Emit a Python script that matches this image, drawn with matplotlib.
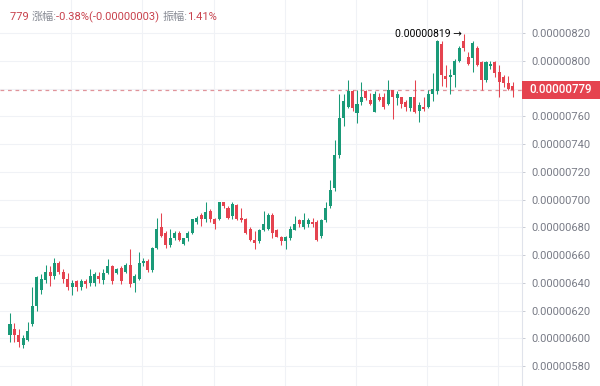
import matplotlib
matplotlib.use("Agg")
import matplotlib.pyplot as plt
import matplotlib.transforms as mtransforms
from matplotlib.patches import Rectangle
import numpy as np

# values in units of 1e-8
opens = [602, 607, 602, 595, 599, 610, 623, 635, 642, 648, 645, 654, 648, 643, 637, 641, 637, 641, 640, 640,
         645, 642, 647, 652, 647, 651, 648, 653, 640, 643, 654, 656, 649, 665, 680, 676, 667, 672, 676, 668,
         672, 676, 684, 689, 686, 692, 686, 686, 698, 694, 688, 696, 687, 686, 679, 671, 670, 678, 679, 689,
         678, 673, 670, 672, 678, 685, 680, 682, 684, 684, 674, 685, 695, 708, 732, 759, 767, 778, 762, 770,
         778, 772, 763, 774, 774, 769, 779, 773, 774, 770, 766, 774, 764, 767, 767, 776, 778, 812, 789, 788,
         790, 800, 814, 803, 802, 809, 799, 786, 796, 799, 792, 788, 784, 782]
highs = [618, 611, 607, 602, 612, 637, 645, 646, 653, 652, 658, 656, 650, 647, 642, 642, 643, 643, 650, 648,
         648, 650, 657, 653, 651, 652, 654, 664, 646, 662, 658, 657, 666, 687, 690, 677, 679, 677, 677, 672,
         677, 686, 688, 690, 698, 693, 687, 698, 698, 695, 698, 697, 694, 687, 680, 677, 679, 692, 690, 690,
         679, 674, 674, 681, 688, 686, 690, 687, 687, 685, 686, 698, 714, 743, 776, 776, 786, 779, 779, 785,
         779, 777, 778, 777, 777, 786, 779, 778, 774, 772, 774, 786, 770, 774, 779, 791, 815, 814, 797, 794,
         801, 811, 819, 806, 814, 811, 800, 800, 800, 800, 797, 790, 789, 785]
lows = [597, 597, 594, 593, 598, 609, 620, 632, 640, 638, 643, 646, 640, 635, 631, 634, 635, 636, 638, 638,
        640, 639, 646, 639, 646, 639, 647, 637, 633, 642, 652, 648, 648, 664, 673, 665, 666, 671, 670, 667,
        670, 675, 682, 681, 684, 684, 679, 685, 694, 686, 686, 685, 684, 675, 670, 664, 669, 677, 678, 672,
        673, 667, 664, 671, 678, 680, 679, 680, 680, 670, 672, 684, 694, 706, 730, 753, 766, 764, 755, 768,
        772, 768, 763, 771, 765, 768, 758, 768, 766, 764, 764, 762, 756, 764, 766, 771, 776, 782, 781, 776,
        781, 799, 807, 797, 792, 796, 779, 785, 794, 788, 774, 781, 779, 774]
closes = [610, 602, 597, 600, 605, 623, 644, 643, 648, 645, 654, 648, 643, 637, 640, 637, 641, 639, 645, 646,
          643, 647, 652, 641, 650, 641, 653, 639, 645, 654, 656, 649, 665, 679, 674, 667, 672, 676, 671, 672,
          676, 686, 687, 686, 691, 686, 682, 698, 695, 687, 697, 686, 685, 676, 671, 669, 678, 682, 689, 676,
          673, 670, 673, 679, 682, 682, 685, 685, 682, 671, 685, 694, 707, 732, 759, 771, 778, 766, 769, 774,
          773, 769, 776, 772, 767, 779, 774, 776, 769, 767, 774, 763, 768, 765, 776, 780, 814, 790, 787, 790,
          800, 809, 809, 798, 813, 797, 786, 799, 798, 791, 785, 784, 780, 779]

y_grid = [580, 600, 620, 640, 660, 680, 700, 720, 740, 760, 780, 800, 820]
last_price = 779
peak_price = 819
title_parts = [("779 ", "#c8414c"), ("涨幅:", "#8a8d96"), ("-0.38%(-0.00000003) ", "#c8414c"),
               ("振幅:", "#8a8d96"), ("1.41%", "#c8414c")]

UP = "#1a9a78"
DOWN = "#e5434f"

plt.rcParams['font.family'] = ['Roboto', 'Noto Sans CJK SC', 'DejaVu Sans']

fig = plt.figure(figsize=(6, 3.86), dpi=100)
ax = fig.add_axes([0, 0, 522 / 600, 1])

o = np.array(opens, float)
h = np.array(highs, float)
l = np.array(lows, float)
c = np.array(closes, float)
x = np.arange(len(o))
up = c >= o
cols = np.where(up, UP, DOWN)

ax.vlines(x, l, h, colors=cols, linewidth=0.75, zorder=3)
bottoms = np.minimum(o, c)
heights = np.maximum(np.abs(c - o), 0.8)
ax.bar(x, heights, bottom=bottoms, width=0.68, color=cols, linewidth=0, zorder=4)

ax.set_xlim(-2.25, 115.09)
ax.set_ylim(565.6, 843.8)

# grid
for v in y_grid:
    ax.axhline(v, color="#f0f2f6", linewidth=0.8, zorder=0)
grid_start, grid_step = -2.25, 16
for k in range(1, 8):
    ax.axvline(grid_start + grid_step * k, color="#f0f2f6", linewidth=0.8, zorder=0)

# tick labels hidden behind the last-price tag are not drawn
y_ticks = [v for v in y_grid if abs(v - last_price) > 8]
ax.set_xticks([])
ax.yaxis.tick_right()
ax.set_yticks(y_ticks)
ax.set_yticklabels([f"{v * 1e-8:.8f}" for v in y_ticks])
ax.tick_params(axis='y', length=2.5, width=0.7, color="#c9ccd4", labelsize=8,
               labelcolor="#787b86", pad=4)
for s in ['top', 'bottom', 'left']:
    ax.spines[s].set_visible(False)
ax.spines['right'].set_color("#e0e3eb")
ax.spines['right'].set_linewidth(0.8)

# last price line
ax.axhline(last_price, color="#e0949b", linewidth=0.9, linestyle=(0, (3, 3)), zorder=2)
trans = mtransforms.blended_transform_factory(fig.transFigure, ax.transData)
rect = Rectangle((522 / 600, last_price - 6.5), 78 / 600, 13, transform=trans,
                 facecolor="#e5434f", edgecolor='none', clip_on=False, zorder=5)
fig.patches.append(rect)
fig.text(561 / 600, last_price, f"{last_price * 1e-8:.8f}", transform=trans, ha='center',
         va='center', color='white', fontsize=8.3, fontweight='medium', zorder=6)

# peak annotation
peak_idx = int(np.argmax(h))
ax.text(peak_idx - 0.4, peak_price, f"{peak_price * 1e-8:.8f} →", ha='right', va='center',
        fontsize=7.5, color='black', family=['Roboto', 'DejaVu Sans'], zorder=6)

# title
prev = None
for txt, col in title_parts:
    if prev is None:
        prev = fig.text(10 / 600, 1 - 17 / 386, txt, color=col, fontsize=8, va='center',
                        family=['Roboto', 'Noto Sans CJK SC', 'DejaVu Sans'])
    else:
        prev = ax.annotate(txt, xy=(1, 0.5), xycoords=prev, va='center', ha='left',
                           color=col, fontsize=8,
                           family=['Roboto', 'Noto Sans CJK SC', 'DejaVu Sans'],
                           annotation_clip=False)

fig.savefig("out.png", dpi=100)
